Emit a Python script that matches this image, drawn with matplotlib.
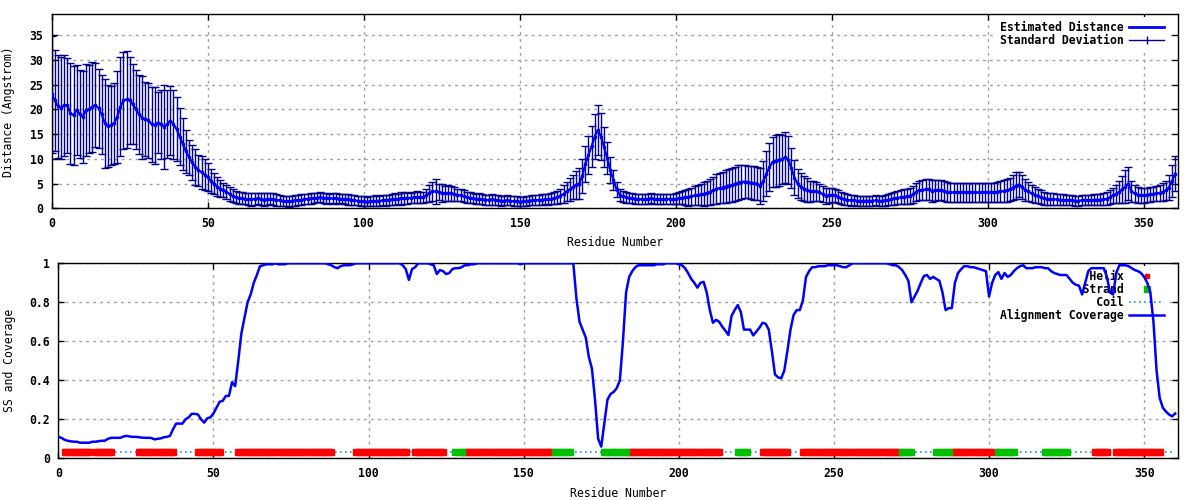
import numpy as np
import matplotlib
matplotlib.use('Agg')
import matplotlib.pyplot as plt
from matplotlib.lines import Line2D

# residue numbers
residues = np.arange(0, 361)

# estimated distance (Angstrom) per residue
distance = [
    23.0, 21.8, 20.6, 20.3, 20.8, 20.8, 19.2, 18.8, 19.9, 19.0,
    18.5, 19.9, 20.0, 20.5, 20.9, 20.2, 19.0, 17.2, 16.6, 16.8,
    17.2, 18.5, 20.5, 21.8, 22.0, 21.8, 21.0, 20.0, 19.0, 18.3,
    18.0, 17.8, 17.0, 16.8, 17.3, 17.0, 16.5, 17.0, 17.7, 17.0,
    16.0, 14.5, 13.0, 11.5, 10.3, 9.3, 8.4, 7.7, 7.3, 6.8,
    6.3, 5.5, 5.0, 4.4, 4.0, 3.7, 3.3, 2.9, 2.5, 2.2,
    2.0, 2.0, 1.9, 1.8, 1.8, 1.9, 2.0, 1.8, 1.7, 1.8,
    1.9, 1.8, 1.7, 1.6, 1.5, 1.4, 1.4, 1.5, 1.6, 1.6,
    1.7, 1.8, 1.9, 2.0, 2.0, 2.1, 2.2, 2.1, 2.0, 2.0,
    2.0, 2.0, 1.9, 1.9, 1.8, 1.8, 1.7, 1.6, 1.5, 1.4,
    1.4, 1.3, 1.4, 1.4, 1.5, 1.5, 1.6, 1.6, 1.7, 1.8,
    1.8, 1.9, 2.0, 2.0, 2.1, 2.1, 2.2, 2.2, 2.2, 2.2,
    2.6, 3.0, 3.4, 3.4, 3.3, 3.1, 3.0, 3.1, 3.0, 2.9,
    2.7, 2.6, 2.4, 2.2, 2.1, 2.0, 1.9, 1.9, 1.8, 1.7,
    1.7, 1.8, 1.7, 1.6, 1.5, 1.5, 1.6, 1.5, 1.4, 1.4,
    1.3, 1.4, 1.5, 1.5, 1.6, 1.6, 1.7, 1.7, 1.8, 1.8,
    1.9, 2.0, 2.2, 2.5, 2.9, 3.4, 3.8, 4.3, 4.7, 5.0,
    6.5, 9.0, 10.8, 12.5, 14.5, 15.8, 14.5, 12.4, 10.1, 7.7,
    5.7, 3.8, 2.7, 2.4, 2.2, 2.1, 2.0, 1.9, 1.9, 1.8,
    1.8, 1.9, 2.0, 1.9, 1.8, 1.8, 1.8, 1.9, 1.9, 1.8,
    1.9, 2.0, 2.1, 2.2, 2.2, 2.4, 2.6, 2.7, 2.8, 2.9,
    3.1, 3.3, 3.6, 3.9, 4.1, 4.2, 4.4, 4.6, 4.7, 4.9,
    5.2, 5.3, 5.4, 5.3, 5.2, 5.1, 5.0, 4.5, 5.5, 7.0,
    8.3, 9.4, 9.6, 9.8, 9.9, 10.3, 9.8, 8.2, 6.2, 5.0,
    4.4, 4.0, 3.7, 3.4, 3.5, 3.4, 3.2, 2.9, 2.5, 2.6,
    2.7, 2.6, 2.3, 2.0, 1.8, 1.7, 1.6, 1.6, 1.5, 1.5,
    1.5, 1.5, 1.5, 1.5, 1.6, 1.5, 1.5, 1.6, 1.7, 1.8,
    2.0, 2.1, 2.2, 2.3, 2.4, 2.5, 2.8, 3.3, 3.6, 3.7,
    3.8, 3.8, 3.5, 3.6, 3.7, 3.7, 3.5, 3.3, 3.2, 3.2,
    3.2, 3.2, 3.2, 3.2, 3.2, 3.2, 3.2, 3.2, 3.2, 3.2,
    3.2, 3.2, 3.2, 3.3, 3.4, 3.5, 3.6, 3.8, 4.2, 4.6,
    4.8, 4.3, 3.7, 3.4, 3.0, 2.7, 2.5, 2.2, 2.0, 1.9,
    1.8, 1.8, 1.8, 1.7, 1.7, 1.6, 1.6, 1.6, 1.5, 1.5,
    1.6, 1.6, 1.6, 1.6, 1.7, 1.7, 1.7, 1.8, 1.9, 2.2,
    2.6, 2.9, 3.3, 3.8, 4.4, 5.0, 3.4, 3.0, 2.7, 2.6,
    2.6, 2.7, 2.8, 2.9, 3.0, 3.1, 3.3, 3.6, 4.2, 5.5,
    7.0,
]

# standard deviation per residue
std_dev = [
    11.9, 10.2, 10.4, 10.3, 10.2, 9.6, 10.2, 10.0, 9.1, 8.9,
    9.3, 9.3, 8.9, 9.1, 8.5, 8.0, 8.0, 9.0, 8.3, 8.0,
    8.2, 9.3, 10.0, 9.8, 9.8, 8.8, 8.1, 8.0, 8.0, 8.4,
    7.5, 7.6, 7.6, 7.8, 6.2, 7.0, 8.5, 6.9, 7.0, 7.0,
    6.4, 5.8, 5.3, 4.4, 3.6, 3.5, 3.6, 3.1, 3.3, 3.2,
    2.9, 2.5, 2.2, 1.9, 1.7, 1.5, 1.4, 1.4, 1.3, 1.2,
    1.2, 1.2, 1.1, 1.2, 1.3, 1.2, 1.1, 1.2, 1.3, 1.2,
    1.1, 1.2, 1.2, 1.1, 1.0, 1.0, 1.1, 1.0, 1.1, 1.0,
    1.1, 1.0, 1.0, 1.1, 1.0, 0.9, 1.0, 1.0, 1.1, 0.9,
    1.1, 1.0, 1.0, 0.9, 1.0, 1.1, 1.0, 1.0, 0.9, 1.0,
    1.0, 0.9, 1.0, 1.0, 1.1, 1.0, 1.0, 1.1, 1.0, 1.1,
    1.2, 1.0, 1.3, 1.1, 1.2, 1.0, 1.1, 1.2, 1.1, 1.1,
    1.4, 1.8, 2.0, 2.6, 1.6, 1.8, 1.5, 1.6, 1.5, 1.4,
    1.3, 1.2, 1.2, 1.1, 1.1, 1.0, 1.0, 1.1, 1.0, 1.0,
    1.0, 1.1, 1.0, 1.0, 1.0, 0.9, 1.0, 0.9, 1.0, 1.0,
    0.9, 0.9, 1.0, 0.9, 1.0, 1.0, 1.0, 1.1, 1.0, 1.1,
    1.1, 1.2, 1.3, 1.5, 1.8, 2.0, 2.3, 2.5, 2.8, 3.2,
    3.4, 3.6, 3.8, 4.2, 4.5, 5.0, 4.8, 4.0, 3.2, 2.6,
    2.0, 1.5, 1.2, 1.1, 1.1, 1.0, 1.0, 1.0, 1.0, 1.0,
    1.0, 1.0, 1.0, 1.0, 1.0, 1.0, 1.0, 1.0, 1.0, 1.0,
    1.1, 1.2, 1.3, 1.5, 1.7, 1.8, 2.0, 2.1, 2.2, 2.4,
    2.5, 2.6, 2.8, 3.0, 3.1, 3.2, 3.3, 3.4, 3.5, 3.5,
    3.5, 3.4, 3.4, 3.3, 3.3, 3.4, 3.4, 3.6, 4.0, 4.5,
    4.8, 5.0, 5.2, 5.3, 5.0, 5.2, 4.8, 4.0, 3.5, 3.0,
    2.8, 2.6, 2.4, 2.2, 2.0, 1.9, 1.8, 1.7, 1.6, 1.5,
    1.5, 1.4, 1.3, 1.2, 1.2, 1.1, 1.1, 1.0, 1.0, 1.0,
    1.0, 1.0, 1.0, 1.0, 1.0, 1.0, 1.0, 1.1, 1.1, 1.2,
    1.3, 1.3, 1.4, 1.5, 1.6, 1.7, 1.8, 1.9, 2.0, 2.1,
    2.1, 2.2, 2.2, 2.1, 2.1, 2.0, 2.0, 2.0, 2.0, 2.0,
    2.0, 2.0, 2.0, 2.0, 2.0, 2.0, 2.0, 2.0, 2.0, 2.0,
    2.0, 2.0, 2.0, 2.0, 2.1, 2.2, 2.3, 2.4, 2.6, 2.8,
    2.6, 2.4, 2.2, 2.0, 1.8, 1.6, 1.5, 1.4, 1.3, 1.2,
    1.2, 1.2, 1.1, 1.1, 1.1, 1.0, 1.0, 1.0, 1.0, 1.0,
    1.0, 1.0, 1.0, 1.0, 1.1, 1.1, 1.1, 1.2, 1.3, 1.4,
    1.6, 1.8, 2.2, 2.8, 3.3, 3.4, 2.2, 1.8, 1.6, 1.5,
    1.5, 1.5, 1.5, 1.5, 1.6, 1.7, 1.8, 2.0, 2.5, 3.2,
    3.6,
]

# alignment coverage per residue
coverage = [
    0.110, 0.105, 0.095, 0.090, 0.087, 0.085, 0.085, 0.080, 0.080, 0.080,
    0.080, 0.085, 0.085, 0.088, 0.090, 0.090, 0.100, 0.105, 0.105, 0.105,
    0.105, 0.112, 0.115, 0.112, 0.110, 0.110, 0.108, 0.106, 0.105, 0.105,
    0.104, 0.097, 0.100, 0.102, 0.108, 0.110, 0.115, 0.150, 0.178, 0.178,
    0.178, 0.200, 0.210, 0.228, 0.228, 0.225, 0.200, 0.183, 0.205, 0.210,
    0.230, 0.260, 0.290, 0.295, 0.320, 0.320, 0.390, 0.370, 0.500, 0.640,
    0.720, 0.800, 0.840, 0.900, 0.940, 0.985, 0.990, 0.995, 0.995, 0.995,
    1.000, 0.995, 0.995, 0.995, 1.000, 1.000, 1.000, 1.000, 1.000, 1.000,
    1.000, 1.000, 1.000, 1.000, 1.000, 1.000, 1.000, 0.995, 0.990, 0.980,
    0.975, 0.985, 0.990, 0.990, 0.990, 0.995, 1.000, 1.000, 1.000, 1.000,
    1.000, 1.000, 1.000, 1.000, 1.000, 1.000, 1.000, 1.000, 1.000, 1.000,
    1.000, 0.990, 0.970, 0.915, 0.970, 0.980, 1.000, 1.000, 1.000, 1.000,
    0.995, 0.990, 0.945, 0.965, 0.960, 0.945, 0.950, 0.970, 0.975, 0.975,
    0.980, 0.990, 0.990, 0.995, 0.995, 1.000, 1.000, 1.000, 1.000, 1.000,
    1.000, 1.000, 1.000, 1.000, 1.000, 1.000, 1.000, 1.000, 1.000, 0.995,
    1.000, 1.000, 1.000, 1.000, 1.000, 1.000, 1.000, 1.000, 1.000, 1.000,
    1.000, 1.000, 1.000, 1.000, 1.000, 1.000, 1.000, 0.820, 0.700, 0.660,
    0.620, 0.520, 0.460, 0.300, 0.100, 0.060, 0.180, 0.300, 0.330, 0.340,
    0.360, 0.400, 0.600, 0.850, 0.930, 0.960, 0.980, 0.990, 0.990, 0.990,
    0.990, 0.990, 0.990, 0.995, 0.995, 0.995, 1.000, 1.000, 1.000, 1.000,
    0.995, 0.990, 0.975, 0.950, 0.920, 0.900, 0.875, 0.900, 0.905, 0.850,
    0.760, 0.695, 0.710, 0.700, 0.675, 0.655, 0.632, 0.730, 0.760, 0.786,
    0.750, 0.660, 0.660, 0.660, 0.630, 0.650, 0.670, 0.695, 0.690, 0.660,
    0.550, 0.430, 0.415, 0.410, 0.450, 0.550, 0.660, 0.735, 0.760, 0.760,
    0.810, 0.930, 0.960, 0.980, 0.980, 0.985, 0.985, 0.985, 0.990, 0.990,
    0.990, 0.990, 0.985, 0.980, 0.980, 0.990, 1.000, 1.000, 1.000, 1.000,
    1.000, 1.000, 1.000, 1.000, 1.000, 1.000, 1.000, 1.000, 0.995, 0.990,
    0.990, 0.980, 0.965, 0.940, 0.910, 0.800, 0.830, 0.860, 0.900, 0.935,
    0.940, 0.920, 0.930, 0.920, 0.910, 0.850, 0.760, 0.770, 0.770, 0.900,
    0.950, 0.970, 0.985, 0.985, 0.980, 0.980, 0.975, 0.970, 0.965, 0.960,
    0.830, 0.900, 0.940, 0.955, 0.920, 0.950, 0.930, 0.940, 0.960, 0.975,
    0.985, 0.990, 0.975, 0.975, 0.975, 0.980, 0.980, 0.980, 0.975, 0.975,
    0.960, 0.950, 0.945, 0.940, 0.940, 0.940, 0.920, 0.900, 0.890, 0.885,
    0.840, 0.900, 0.960, 0.975, 0.975, 0.975, 0.975, 0.975, 0.930, 0.850,
    0.840, 0.950, 0.990, 0.990, 0.990, 0.985, 0.975, 0.965, 0.960, 0.950,
    0.930, 0.900, 0.850, 0.700, 0.450, 0.310, 0.260, 0.240, 0.225, 0.215,
    0.230,
]

# secondary structure segments (first, last residue)
helix_segments = [(2, 10), (12, 17), (26, 37), (45, 52), (58, 88), (96, 112),
                  (115, 124), (131, 159), (184, 213), (227, 235), (240, 271),
                  (288, 300), (302, 302), (334, 338), (341, 355)]
strand_segments = [(128, 130), (160, 165), (176, 183), (219, 222), (272, 275),
                   (283, 287), (303, 308), (318, 325)]
ss_first, ss_last = 2, 360

helix_res = np.concatenate([np.arange(a, b + 1) for a, b in helix_segments])
strand_res = np.concatenate([np.arange(a, b + 1) for a, b in strand_segments])
coil_res = np.arange(ss_first, ss_last + 1)
ss_level = 0.034

plt.rcParams['font.family'] = 'DejaVu Sans Mono'
plt.rcParams['font.weight'] = 'bold'
plt.rcParams['font.size'] = 8.3

fig = plt.figure(figsize=(12, 5), dpi=100)
ax1 = fig.add_axes([0.0431, 0.5834, 0.9388, 0.3880])
ax2 = fig.add_axes([0.0486, 0.0834, 0.9333, 0.3900])

grid_kw = dict(color='#a0a0a0', linestyle=(0, (2, 3)), linewidth=1)

# --- top panel: distance with error bars
ax1.errorbar(residues, distance, yerr=std_dev, fmt='none', ecolor='#00008b',
             elinewidth=1, capsize=2.8, capthick=1, zorder=2)
ax1.plot(residues, distance, color='#0000ff', lw=1.6, marker='s', ms=1.8,
         zorder=3)
ax1.set_xlim(0, 361)
ax1.set_ylim(0, 39.2)
ax1.set_xticks(range(0, 351, 50))
ax1.set_yticks(range(0, 36, 5))
ax1.set_xlabel('Residue Number')
ax1.set_ylabel('Distance (Angstrom)')
ax1.xaxis.set_label_coords(0.5, -0.143)
ax1.yaxis.set_label_coords(-0.0326, 0.5)

h1 = [Line2D([], [], color='#0000ff', lw=2),
      Line2D([], [], color='#00008b', lw=1, marker='|', ms=6)]
leg1 = ax1.legend(h1, ['Estimated Distance', 'Standard Deviation'],
                  loc='upper right', bbox_to_anchor=(0.994, 1.004),
                  markerfirst=False, frameon=True,
                  fancybox=False, edgecolor='none', facecolor='white',
                  framealpha=1, handlelength=3.0, handletextpad=0.5,
                  labelspacing=0.0, borderpad=0.35, borderaxespad=0.3)
leg1.set_zorder(1)

# --- bottom panel: SS track and coverage
ax2.plot(coil_res, np.full(len(coil_res), ss_level), color='#1e90ff',
         linestyle=(0, (1, 2)), lw=1.2, zorder=2)
ax2.plot(helix_res, np.full(len(helix_res), ss_level), ls='none', marker='s',
         ms=3.8, color='#ff0000', mec='#ff0000', zorder=3)
ax2.plot(strand_res, np.full(len(strand_res), ss_level), ls='none', marker='s',
         ms=4.8, color='#00c000', mec='#00c000', zorder=3)
ax2.plot(residues, coverage, color='#0000ff', lw=1.8, zorder=4)
ax2.set_xlim(0, 361)
ax2.set_ylim(0, 1)
ax2.set_xticks(range(0, 351, 50))
ax2.set_yticks([0, 0.2, 0.4, 0.6, 0.8, 1])
ax2.set_yticklabels(['0', '0.2', '0.4', '0.6', '0.8', '1'])
ax2.set_xlabel('Residue Number')
ax2.set_ylabel('SS and Coverage')
ax2.xaxis.set_label_coords(0.5, -0.145)
ax2.yaxis.set_label_coords(-0.0378, 0.5)

h2 = [Line2D([], [], ls='none', marker='s', ms=3.5, color='#ff0000'),
      Line2D([], [], ls='none', marker='s', ms=4.5, color='#00c000'),
      Line2D([], [], color='#1e90ff', linestyle=(0, (1, 2)), lw=1.2),
      Line2D([], [], color='#0000ff', lw=1.8)]
labels2 = ['Helix', 'Strand', 'Coil', 'Alignment Coverage']
width = max(len(s) for s in labels2)
leg2 = ax2.legend(h2, [s.rjust(width) for s in labels2],
                  loc='upper right', bbox_to_anchor=(0.994, 1.004),
                  markerfirst=False, frameon=True,
                  fancybox=False, edgecolor='none', facecolor='white',
                  framealpha=1, handlelength=3.0, handletextpad=0.5,
                  labelspacing=0.0, borderpad=0.35, borderaxespad=0.3)
leg2.set_zorder(1)

for ax in (ax1, ax2):
    ax.set_axisbelow(True)
    ax.grid(True, **grid_kw)
    ax.tick_params(direction='in', top=True, right=True, length=4, width=1,
                   pad=6, labelsize=8.3)
    for sp in ax.spines.values():
        sp.set_linewidth(1)
        sp.set_color('black')

fig.savefig('out.png', dpi=100)
